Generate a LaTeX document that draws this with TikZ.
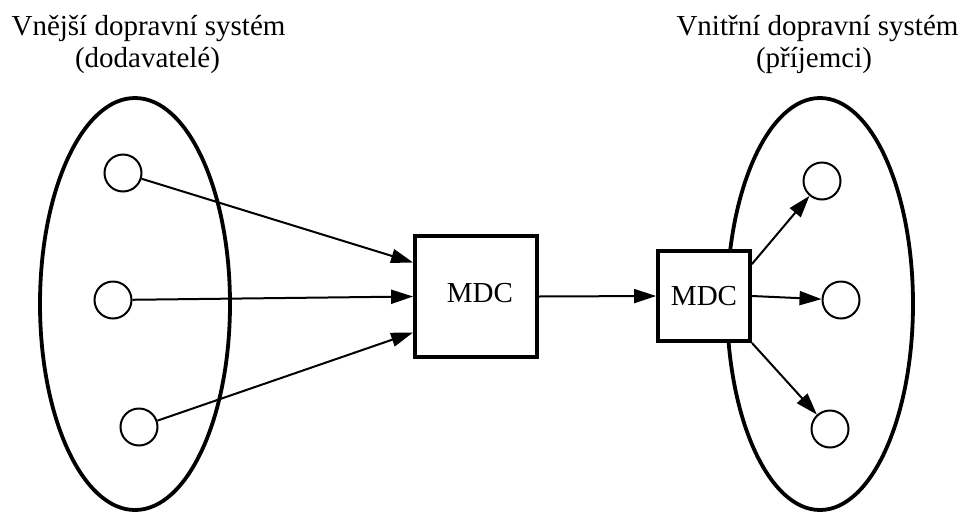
\documentclass[tikz,border=0pt]{standalone}
\usepackage{fontspec}
\setmainfont{Liberation Serif}
\usetikzlibrary{arrows.meta}
\begin{document}
\begin{tikzpicture}[x=1pt,y=-1pt,
  every node/.style={font=\fontsize{29}{32}\selectfont},
  group/.style={line width=3.8pt},
  place/.style={circle,draw,line width=2pt,minimum size=37pt,inner sep=0pt,fill=white},
  hub/.style={rectangle,draw,line width=3.8pt,fill=white,inner sep=0pt},
  flow/.style={line width=2pt,-{Triangle[length=22pt,width=14pt]}},
  caption/.style={anchor=base,inner sep=0pt}]
\useasboundingbox (0,0) rectangle (962,512);

% outer (supplier) and inner (recipient) systems
\draw[group] (135,304) ellipse [x radius=95pt, y radius=206pt];
\draw[group] (820,304) ellipse [x radius=93pt, y radius=206pt];

% captions
\node[caption] (t1) at (148.5,35) {Vnější dopravní systém};
\node[caption] (t2) at (147.5,67) {(dodavatelé)};
\node[caption] (t3) at (817.5,35) {Vnitřní dopravní systém};
\node[caption] (t4) at (814,67) {(příjemci)};

% suppliers
\node[place] (s1) at (123,173) {};
\node[place] (s2) at (113,300) {};
\node[place] (s3) at (139,427) {};

% recipients
\node[place] (r1) at (822,181) {};
\node[place] (r2) at (841,300) {};
\node[place] (r3) at (830,429) {};

% distribution centres
\node[hub,minimum width=122pt,minimum height=121pt] (m1) at (476,296.5) {};
\node (m1t) at (480,293) {MDC};
\node[hub,minimum width=92pt,minimum height=90pt] (m2) at (704,296) {MDC};

% flows
\draw[flow] (s1) -- ([yshift=34pt]m1.west);
\draw[flow] (s2) -- (m1.west);
\draw[flow] (s3) -- ([yshift=-36pt]m1.west);
\draw[flow] (m1.east) -- (m2.west);
\draw[flow] ([yshift=-15pt]m2.north east) -- (r1);
\draw[flow] (m2.east) -- (r2);
\draw[flow] (m2.south east) -- (r3);
\end{tikzpicture}
\end{document}
